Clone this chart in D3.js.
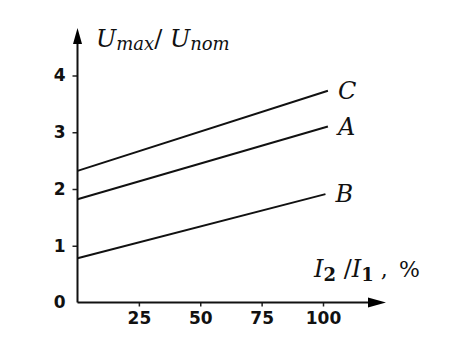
<!DOCTYPE html>
<html>
<head>
<meta charset="utf-8">
<script src="https://cdn.jsdelivr.net/npm/d3@7"></script>
<style>
  body { margin: 0; background: #fff; }
  .tick text { font-family: "DejaVu Sans", sans-serif; font-weight: bold; font-size: 17px; fill: #111; }
  .lbl { font-family: "DejaVu Serif", serif; font-style: italic; fill: #111; }
</style>
</head>
<body>
<svg id="chart" width="476" height="354"></svg>
<script>
// data
const seriesNames = ["C", "A", "B"];
const seriesStart = [[0, 2.32], [0, 1.82], [0, 0.78]];
const seriesEnd = [[102, 3.73], [102, 3.10], [101, 1.91]];
const xTicks = [25, 50, 75, 100];
const yTicks = [0, 1, 2, 3, 4];

const svg = d3.select("#chart");

var xscale = d3.scaleLinear().domain([0, 100]).range([77.5, 323]);
var yscale = d3.scaleLinear().domain([0, 4]).range([302.5, 75.5]);

// axes
var x_axis = d3.axisBottom(xscale).tickValues(xTicks).tickFormat(d3.format("d")).tickSize(4).tickPadding(5);
var xg = svg.append("g").attr("transform", "translate(0, 302.5)").call(x_axis);
xg.select(".domain").remove();
xg.selectAll("line").attr("stroke", "#222").attr("stroke-width", 1.5);

var y_axis = d3.axisLeft(yscale).tickValues(yTicks).tickFormat(d3.format("d")).tickSize(5).tickPadding(7);
var yg = svg.append("g").attr("transform", "translate(77.5, 0)").call(y_axis);
yg.select(".domain").remove();
yg.selectAll("line").attr("stroke", "#222").attr("stroke-width", 1.5);
yg.selectAll(".tick").filter(d => d === 0).select("line").remove();

// axis lines with arrows
svg.append("line")
  .attr("x1", 77.5).attr("y1", 302.5).attr("x2", 372).attr("y2", 302.5)
  .attr("stroke", "#111").attr("stroke-width", 2);
svg.append("path")
  .attr("d", "M386,302.5 L368,297.5 L368,307.5 Z").attr("fill", "#000");

svg.append("line")
  .attr("x1", 77.5).attr("y1", 302.5).attr("x2", 77.5).attr("y2", 40)
  .attr("stroke", "#111").attr("stroke-width", 2);
svg.append("path")
  .attr("d", "M77.5,28 L73,44 L82,44 Z").attr("fill", "#000");

// series lines
const line = d3.line().x(d => xscale(d[0])).y(d => yscale(d[1]));
seriesNames.forEach((name, i) => {
  svg.append("path")
    .attr("d", line([seriesStart[i], seriesEnd[i]]))
    .attr("stroke", "#111").attr("stroke-width", 2).attr("fill", "none");
  svg.append("text")
    .attr("class", "lbl")
    .attr("x", xscale(seriesEnd[i][0]) + 10)
    .attr("y", yscale(seriesEnd[i][1]) + 8)
    .attr("font-size", 24)
    .text(name);
});

// y axis title
var yt = svg.append("text").attr("class", "lbl").attr("x", 96).attr("y", 47).attr("font-size", 24);
yt.append("tspan").text("U");
yt.append("tspan").attr("font-size", 18).attr("dy", 3).text("max");
yt.append("tspan").attr("dy", -3).attr("font-style", "normal").text("/ ");
yt.append("tspan").text("U");
yt.append("tspan").attr("font-size", 18).attr("dy", 3).text("nom");

// x axis title
var xt = svg.append("text").attr("class", "lbl").attr("x", 314).attr("y", 277).attr("font-size", 24);
xt.append("tspan").text("I");
xt.append("tspan").attr("font-size", 18).attr("font-style", "normal").attr("font-weight", "bold").attr("dy", 4).text("2");
xt.append("tspan").attr("dy", -4).attr("font-style", "normal").text(" /");
xt.append("tspan").text("I");
xt.append("tspan").attr("font-size", 18).attr("font-style", "normal").attr("font-weight", "bold").attr("dy", 4).text("1");
xt.append("tspan").attr("dy", -4).attr("font-style", "normal").attr("font-size", 22).text(" , \u2009%");
</script>
</body>
</html>
